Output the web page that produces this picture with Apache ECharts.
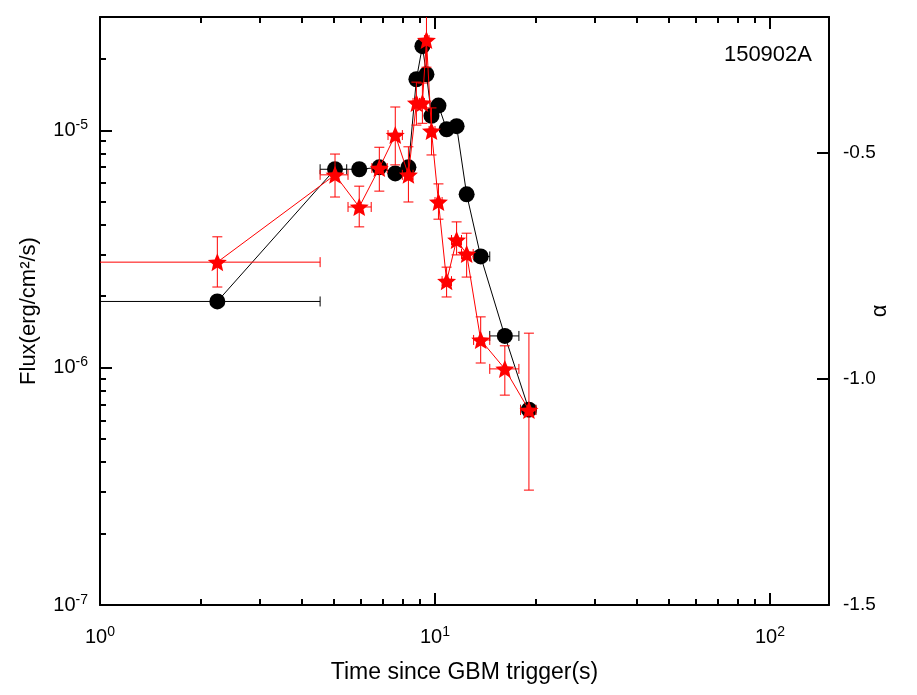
<!DOCTYPE html>
<html>
<head>
<meta charset="utf-8">
<script src="https://cdn.jsdelivr.net/npm/echarts@6/dist/echarts.min.js"></script>
<style>
html, body { margin: 0; padding: 0; background: #fff; }
#chart { width: 917px; height: 695px; }
</style>
</head>
<body>
<div id="chart"></div>
<script>
// time bins (s), shared by both series
const times = [2.24, 5.03, 5.94, 6.82, 7.61, 8.33, 8.80, 9.17, 9.43, 9.76, 10.24, 10.83, 11.60, 12.43, 13.69, 16.16, 19.07];

// flux (black circles) with time errors
const flux = [1.90e-6, 6.85e-6, 6.85e-6, 6.98e-6, 6.58e-6, 6.98e-6, 1.64e-5, 2.26e-5, 1.72e-5, 1.15e-5, 1.27e-5, 1.01e-5, 1.04e-5, 5.37e-6, 2.94e-6, 1.36e-6, 6.65e-7];
const fluxTLo = [0.5, 4.54, 5.75, 6.62, 7.40, 8.10, 8.60, 9.00, 9.30, 9.55, 10.0, 10.55, 11.3, 12.1, 13.1, 14.57, 18.0];
const fluxTHi = [4.54, 5.45, 6.12, 7.02, 7.82, 8.55, 9.00, 9.30, 9.55, 9.95, 10.5, 11.1, 11.9, 12.8, 14.57, 17.8, 20.0];

// alpha (red stars) with time and alpha errors
const alpha = [-0.742, -0.549, -0.620, -0.534, -0.461, -0.549, -0.390, -0.390, -0.251, -0.452, -0.609, -0.784, -0.693, -0.724, -0.914, -0.978, -1.069];
const alphaLo = [-0.797, -0.598, -0.664, -0.585, -0.527, -0.609, -0.439, -0.435, -0.311, -0.505, -0.647, -0.819, -0.726, -0.775, -0.965, -1.036, -1.246];
const alphaHi = [-0.686, -0.503, -0.574, -0.488, -0.399, -0.487, -0.344, -0.346, -0.10, -0.401, -0.569, -0.753, -0.653, -0.678, -0.863, -0.927, -0.899];
const alphaTLo = [0.5, 4.54, 5.50, 6.48, 7.24, 7.99, 8.60, 9.00, 9.30, 9.60, 10.0, 10.5, 11.2, 12.0, 13.04, 14.57, 18.0];
const alphaTHi = [4.54, 5.50, 6.45, 7.20, 7.99, 8.60, 9.00, 9.30, 9.60, 10.0, 10.5, 11.2, 12.0, 13.0, 14.57, 17.8, 20.0];

// axis ticks
const xMajor = [1, 10, 100];
const xMinor = [2, 3, 4, 5, 6, 7, 8, 9, 20, 30, 40, 50, 60, 70, 80, 90];
const yMajor = [1e-7, 1e-6, 1e-5];
const yMinor = [2e-7, 3e-7, 4e-7, 5e-7, 6e-7, 7e-7, 8e-7, 9e-7, 2e-6, 3e-6, 4e-6, 5e-6, 6e-6, 7e-6, 8e-6, 9e-6, 2e-5];
const alphaTicks = [-1.5, -1.0, -0.5];

const FONT = 'Liberation Sans, Arial, sans-serif';
const RED = '#ff0000';
const STAR = 'path://M0,-10 L2.645,-3.64 L9.51,-3.09 L4.28,1.39 L5.88,8.09 L0,4.5 L-5.88,8.09 L-4.28,1.39 L-9.51,-3.09 L-2.645,-3.64 Z';

const powRich = {
  b: { fontSize: 20, fontFamily: FONT, color: '#000', lineHeight: 24 },
  s: { fontSize: 14, fontFamily: FONT, color: '#000', verticalAlign: 'top', lineHeight: 12 }
};
function powLabel(v) {
  return '{b|10}{s|' + Math.round(Math.log10(v)) + '}';
}

const line2 = { lineStyle: { color: '#000', width: 2 } };

function errorBars(color, withY) {
  return function (params, api) {
    const x = api.value(0), yv = api.value(3);
    const c = api.coord([x, yv]);
    const pl = api.coord([api.value(1), yv]);
    const ph = api.coord([api.value(2), yv]);
    const style = { stroke: color, lineWidth: 1 };
    const cap = 5;
    const kids = [
      { type: 'line', shape: { x1: pl[0], y1: c[1], x2: ph[0], y2: c[1] }, style },
      { type: 'line', shape: { x1: pl[0], y1: c[1] - cap, x2: pl[0], y2: c[1] + cap }, style },
      { type: 'line', shape: { x1: ph[0], y1: c[1] - cap, x2: ph[0], y2: c[1] + cap }, style }
    ];
    if (withY) {
      const yl = api.coord([x, api.value(4)]);
      const yh = api.coord([x, api.value(5)]);
      kids.push(
        { type: 'line', shape: { x1: c[0], y1: yl[1], x2: c[0], y2: yh[1] }, style },
        { type: 'line', shape: { x1: c[0] - cap, y1: yl[1], x2: c[0] + cap, y2: yl[1] }, style },
        { type: 'line', shape: { x1: c[0] - cap, y1: yh[1], x2: c[0] + cap, y2: yh[1] }, style }
      );
    }
    return { type: 'group', children: kids };
  };
}

const chart = echarts.init(document.getElementById('chart'));
chart.setOption({
  animation: false,
  backgroundColor: '#fff',
  grid: { left: 100, right: 88, top: 17, bottom: 90 },
  graphic: [{
    type: 'text', right: 105, top: 44,
    style: { text: '150902A', fontSize: 22, fontFamily: FONT, fill: '#000' }
  }],
  xAxis: [
    {
      type: 'log', min: 1, max: 150, position: 'bottom',
      axisLine: { onZero: false, ...line2 },
      axisTick: { inside: true, length: 12, customValues: xMajor, lineStyle: { color: '#000', width: 2 } },
      axisLabel: { customValues: xMajor, formatter: powLabel, rich: powRich, margin: 20 },
      splitLine: { show: false },
      name: 'Time since GBM trigger(s)', nameLocation: 'middle', nameGap: 56, nameMoveOverlap: false,
      nameTextStyle: { fontSize: 23, fontFamily: FONT, color: '#000' }
    },
    {
      type: 'log', min: 1, max: 150, position: 'top',
      axisLine: { onZero: false, ...line2 },
      axisTick: { inside: true, length: 12, customValues: xMajor, lineStyle: { color: '#000', width: 2 } },
      axisLabel: { show: false }, splitLine: { show: false }
    },
    {
      type: 'log', min: 1, max: 150, position: 'bottom',
      axisLine: { show: false, onZero: false },
      axisTick: { inside: true, length: 6, customValues: xMinor, lineStyle: { color: '#000', width: 2 } },
      axisLabel: { show: false }, splitLine: { show: false }
    },
    {
      type: 'log', min: 1, max: 150, position: 'top',
      axisLine: { show: false, onZero: false },
      axisTick: { inside: true, length: 6, customValues: xMinor, lineStyle: { color: '#000', width: 2 } },
      axisLabel: { show: false }, splitLine: { show: false }
    }
  ],
  yAxis: [
    {
      type: 'log', min: 1e-7, max: 3e-5, position: 'left',
      axisLine: { onZero: false, ...line2 },
      axisTick: { inside: true, length: 12, customValues: yMajor, lineStyle: { color: '#000', width: 2 } },
      axisLabel: { customValues: yMajor, formatter: powLabel, rich: powRich, margin: 12 },
      splitLine: { show: false },
      name: 'Flux(erg/cm²/s)', nameLocation: 'middle', nameGap: 60, nameMoveOverlap: false,
      nameTextStyle: { fontSize: 22, fontFamily: FONT, color: '#000' }
    },
    {
      type: 'value', min: -1.5, max: -0.2, interval: 0.5, position: 'right',
      axisLine: { onZero: false, ...line2 },
      axisTick: { inside: true, length: 12, customValues: alphaTicks, lineStyle: { color: '#000', width: 2 } },
      axisLabel: {
        customValues: alphaTicks, margin: 14,
        formatter: v => v.toFixed(1),
        fontSize: 19, fontFamily: FONT, color: '#000'
      },
      splitLine: { show: false },
      name: 'α', nameLocation: 'middle', nameGap: 40, nameMoveOverlap: false,
      nameTextStyle: { fontSize: 22, fontFamily: FONT, color: '#000' }
    },
    {
      type: 'log', min: 1e-7, max: 3e-5, position: 'left',
      axisLine: { show: false, onZero: false },
      axisTick: { inside: true, length: 6, customValues: yMinor, lineStyle: { color: '#000', width: 2 } },
      axisLabel: { show: false }, splitLine: { show: false }
    }
  ],
  series: [
    {
      name: 'flux err', type: 'custom', xAxisIndex: 0, yAxisIndex: 0, clip: true, z: 2,
      renderItem: errorBars('#000', false),
      encode: { x: [0, 1, 2], y: [3] },
      data: times.map((t, i) => [t, fluxTLo[i], fluxTHi[i], flux[i]])
    },
    {
      name: 'flux', type: 'line', xAxisIndex: 0, yAxisIndex: 0, z: 3,
      symbol: 'circle', symbolSize: 16,
      itemStyle: { color: '#000' },
      lineStyle: { color: '#000', width: 1 },
      data: times.map((t, i) => [t, flux[i]])
    },
    {
      name: 'alpha err', type: 'custom', xAxisIndex: 0, yAxisIndex: 1, clip: true, z: 4,
      renderItem: errorBars(RED, true),
      encode: { x: [0, 1, 2], y: [3, 4, 5] },
      data: times.map((t, i) => [t, alphaTLo[i], alphaTHi[i], alpha[i], alphaLo[i], alphaHi[i]])
    },
    {
      name: 'alpha', type: 'line', xAxisIndex: 0, yAxisIndex: 1, z: 5,
      symbol: STAR, symbolSize: [19, 18],
      itemStyle: { color: RED },
      lineStyle: { color: RED, width: 1 },
      data: times.map((t, i) => [t, alpha[i]])
    }
  ]
});
window.addEventListener('resize', () => chart.resize());
</script>
</body>
</html>
